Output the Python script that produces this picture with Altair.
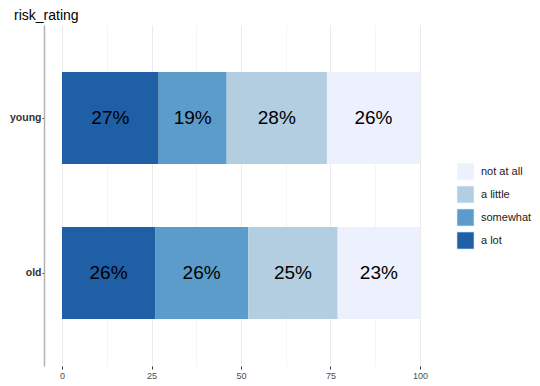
import altair as alt
import pandas as pd

groups = ["young", "old"]
levels = ["a lot", "somewhat", "a little", "not at all"]
young_pct = [27, 19, 28, 26]
old_pct = [26, 26, 25, 23]
legend_levels = ["not at all", "a little", "somewhat", "a lot"]
legend_colors = ["#edf1fd", "#b3cee0", "#5b9ccb", "#1f5fa5"]
x_ticks = [0, 12.5, 25, 37.5, 50, 62.5, 75, 87.5, 100]

rows = []
for g, vals in zip(groups, [young_pct, old_pct]):
    for i, (lvl, v) in enumerate(zip(levels, vals)):
        rows.append({"group": g, "level": lvl, "pct": v, "order": i})
df = pd.DataFrame(rows)

FONT = "Liberation Sans"

base = alt.Chart(df).transform_stack(
    stack="pct",
    groupby=["group"],
    as_=["x0", "x1"],
    sort=[alt.SortField("order", order="ascending")],
).transform_calculate(
    mid="(datum.x0 + datum.x1) / 2",
    label="datum.pct + '%'",
)

xscale = alt.Scale(domain=[-5.03, 105.03], nice=False, zero=False)
yscale = alt.Scale(domain=groups, paddingInner=0.406, paddingOuter=0.303)

major = "datum.value % 25 == 0"

x_axis = alt.Axis(
    values=x_ticks,
    labelExpr="datum.value % 25 == 0 ? datum.label : ''",
    domain=False,
    gridColor={"condition": {"test": major, "value": "#ebebeb"}, "value": "#f5f5f5"},
    gridWidth=1,
    tickColor={"condition": {"test": major, "value": "#333333"}, "value": "transparent"},
    tickSize=3,
    labelFontSize=9,
    labelColor="#4d4d4d",
    labelFont=FONT,
    labelPadding=2,
    title=None,
)

y_axis = alt.Axis(
    domain=True,
    domainColor="#b3b3b3",
    domainWidth=1.5,
    gridColor="#ebebeb",
    bandPosition=0.5,
    tickColor="#333333",
    tickSize=2,
    labelFontSize=10.5,
    labelFontWeight="bold",
    labelColor="#333333",
    labelFont=FONT,
    labelPadding=1,
    title=None,
)

bars = base.mark_bar().encode(
    x=alt.X("x0:Q", scale=xscale, axis=x_axis),
    x2="x1:Q",
    y=alt.Y("group:N", scale=yscale, axis=y_axis, sort=groups),
    color=alt.Color(
        "level:N",
        scale=alt.Scale(domain=legend_levels, range=legend_colors),
        legend=alt.Legend(
            title=None,
            orient="none",
            legendX=412,
            legendY=137,
            symbolType="square",
            symbolSize=306,
            symbolStrokeColor="white",
            symbolStrokeWidth=1,
            symbolOpacity=1,
            rowPadding=0,
            labelOffset=6,
            labelFontSize=11,
            labelColor="#1a1a1a",
            labelFont=FONT,
            padding=0,
        ),
    ),
)

texts = base.mark_text(fontSize=19, font=FONT, color="#000000").encode(
    x=alt.X("mid:Q", scale=xscale),
    y=alt.Y("group:N", scale=yscale, sort=groups),
    text="label:N",
)

chart = (
    alt.layer(bars, texts)
    .properties(
        width=394,
        height=341,
        autosize=alt.AutoSizeParams(type="none"),
        padding={"left": 36, "top": 17, "right": 94, "bottom": 20},
        title=alt.TitleParams(
            "risk_rating",
            anchor="start",
            frame="group",
            dx=-30,
            dy=17,
            fontSize=14,
            fontWeight="normal",
            font=FONT,
            color="#000000",
            offset=8,
            baseline="alphabetic",
        ),
        background="white",
    )
    .configure_view(stroke=None)
)

chart.save("out.html", embed_options={"renderer": "svg", "actions": False})
